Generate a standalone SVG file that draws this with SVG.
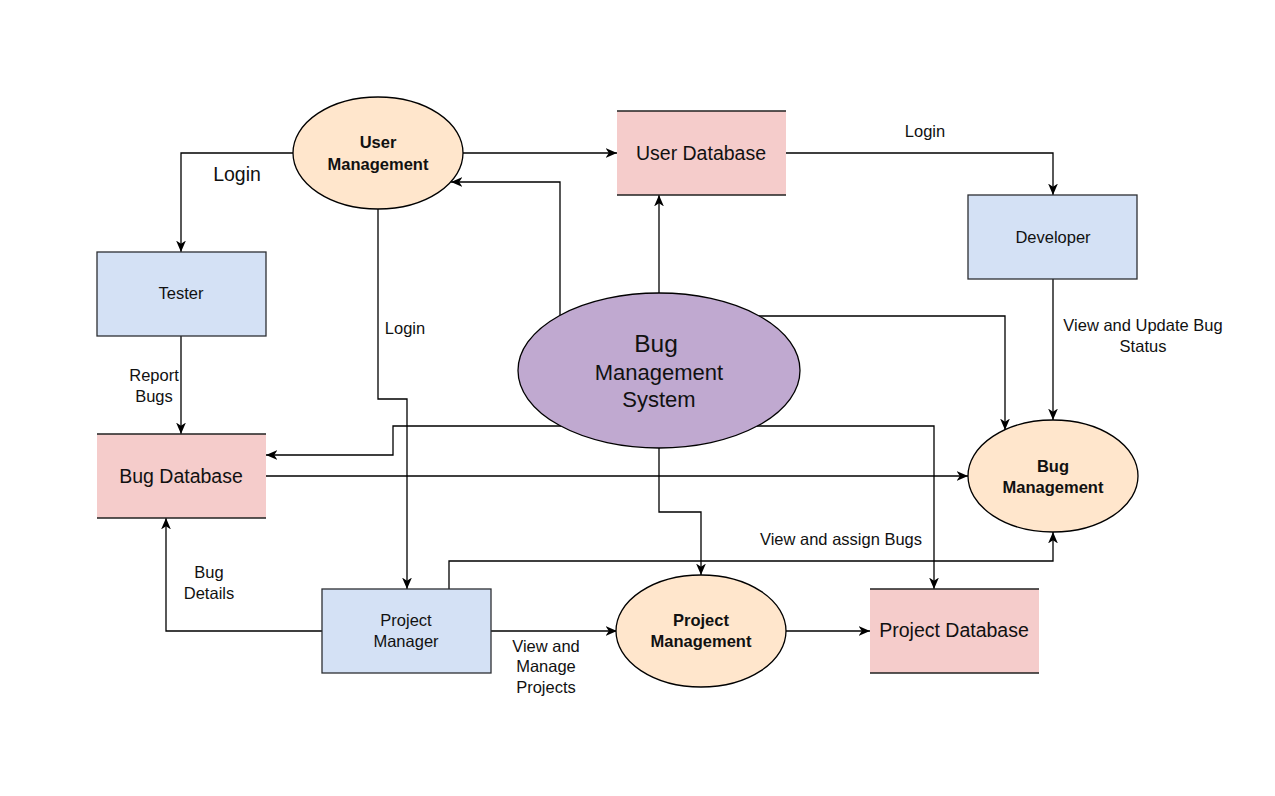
<svg xmlns="http://www.w3.org/2000/svg" width="1275" height="796" viewBox="0 0 1275 796">
<defs>
<marker id="arr" markerUnits="userSpaceOnUse" markerWidth="12" markerHeight="12" viewBox="0 0 11 10" refX="10.5" refY="5" orient="auto">
<path d="M0,0.5 L10.5,5 L0,9.5 L3,5 Z" fill="#000"/>
</marker>
<style>
text{font-family:"Liberation Sans",Arial,sans-serif;fill:#111;text-anchor:middle}
.s{font-size:16.5px}
.b{font-size:16.5px;font-weight:bold}
.l{font-size:19.5px}
.ent{fill:#d4e1f5;stroke:#2d2f33;stroke-width:1.3}
.proc{fill:#ffe6cc;stroke:#000;stroke-width:1.3}
.ds{fill:#f5cccb}
.dsl{stroke:#222;stroke-width:1.3;fill:none}
.c{fill:none;stroke:#000;stroke-width:1.3;marker-end:url(#arr)}
</style>
</defs>
<rect width="1275" height="796" fill="#fff"/>

<g id="connectors">
<path class="c" d="M293,153 H181 V252"/>
<path class="c" d="M463,153 H617"/>
<path class="c" d="M378,209 V399 H407 V589"/>
<path class="c" d="M560,315 V182 H451"/>
<path class="c" d="M659,293 V195"/>
<path class="c" d="M786,153 H1053 V195"/>
<path class="c" d="M1053,279 V420"/>
<path class="c" d="M759,316 H1005 V430"/>
<path class="c" d="M561,426 H393 V455 H266"/>
<path class="c" d="M757,426 H934 V589"/>
<path class="c" d="M266,476 H968"/>
<path class="c" d="M659,448 V512 H701 V575"/>
<path class="c" d="M449,589 V561 H1053 V532"/>
<path class="c" d="M322,631 H166 V518"/>
<path class="c" d="M491,631 H617"/>
<path class="c" d="M786,631 H870"/>
<path class="c" d="M181,336 V434"/>
<text class="l" x="237" y="181">Login</text>
<text class="s" x="405" y="334">Login</text>
<text class="s" x="925" y="137">Login</text>
<text class="s" x="1143" y="331">View and Update Bug</text>
<text class="s" x="1143" y="352">Status</text>
<text class="s" x="154" y="381">Report</text>
<text class="s" x="154" y="402">Bugs</text>
<text class="s" x="209" y="578">Bug</text>
<text class="s" x="209" y="599">Details</text>
<text class="s" x="546" y="652">View and</text>
<text class="s" x="546" y="672">Manage</text>
<text class="s" x="546" y="693">Projects</text>
<text class="s" x="841" y="545">View and assign Bugs</text>
</g>

<g id="user-management">
<ellipse class="proc" cx="378" cy="153" rx="85" ry="56"/>
<text class="b" x="378" y="148">User</text>
<text class="b" x="378" y="170">Management</text>
</g>

<g id="user-database">
<rect class="ds" x="617" y="111" width="169" height="84"/>
<path class="dsl" d="M617,111 H786 M617,195 H786"/>
<text class="l" x="701" y="160">User Database</text>
</g>

<g id="developer">
<rect class="ent" x="968" y="195" width="169" height="84"/>
<text class="s" x="1053" y="243">Developer</text>
</g>

<g id="tester">
<rect class="ent" x="97" y="252" width="169" height="84"/>
<text class="s" x="181" y="299">Tester</text>
</g>

<g id="bug-management-system">
<ellipse cx="659" cy="370.5" rx="141" ry="77.5" fill="#c0a9d0" stroke="#000" stroke-width="1.3"/>
<text x="656" y="352" style="font-size:24.5px">Bug</text>
<text x="659" y="380" style="font-size:22px">Management</text>
<text x="659" y="407" style="font-size:22px">System</text>
</g>

<g id="bug-database">
<rect class="ds" x="97" y="434" width="169" height="84"/>
<path class="dsl" d="M97,434 H266 M97,518 H266"/>
<text class="l" x="181" y="483">Bug Database</text>
</g>

<g id="bug-management">
<ellipse class="proc" cx="1053" cy="476" rx="85" ry="56"/>
<text class="b" x="1053" y="472">Bug</text>
<text class="b" x="1053" y="493">Management</text>
</g>

<g id="project-manager">
<rect class="ent" x="322" y="589" width="169" height="84"/>
<text class="s" x="406" y="626">Project</text>
<text class="s" x="406" y="647">Manager</text>
</g>

<g id="project-management">
<ellipse class="proc" cx="701" cy="631" rx="85" ry="56"/>
<text class="b" x="701" y="626">Project</text>
<text class="b" x="701" y="647">Management</text>
</g>

<g id="project-database">
<rect class="ds" x="870" y="589" width="169" height="84"/>
<path class="dsl" d="M870,589 H1039 M870,673 H1039"/>
<text class="l" x="954" y="637">Project Database</text>
</g>
</svg>
